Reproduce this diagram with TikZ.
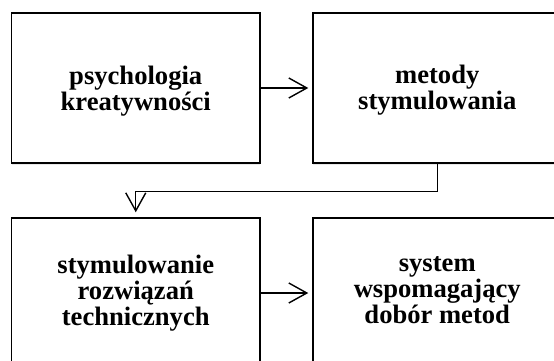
\documentclass[tikz,border=0pt]{standalone}
\usepackage{fontspec}
\setmainfont{Liberation Serif}
\usetikzlibrary{arrows.meta,positioning,shadows}

\begin{document}
\begin{tikzpicture}[x=1pt,y=-1pt,
    blok/.style={draw, line width=1.5pt, fill=white, minimum width=248.5pt,
      minimum height=150pt, inner sep=0pt,
      drop shadow={opacity=0.18, shadow xshift=0pt, shadow yshift=-2pt}},
    opis/.style={font=\bfseries\fontsize{26.6}{26}\selectfont, align=center, inner sep=0pt},
    strz/.style={line width=1.4pt,
      -{Straight Barb[length=18pt,width=20pt,line width=1.4pt]}}]
    \useasboundingbox (0,0) rectangle (554,361);
    \clip (0,0) rectangle (554,361);

    \node[blok] (b1) at (135.75,88) {};
    \node[blok] (b2) at (437.25,88) {};
    \node[blok] (b3) at (135.75,293) {};
    \node[blok] (b4) at (437.25,293) {};

    \node[opis] (psych) at (135.75,90.8) {psychologia\\kreatywności};
    \node[opis] (metody) at (437.25,89.8) {metody\\stymulowania};
    \node[opis] (stym) at (135.75,292.8) {stymulowanie\\rozwiązań\\technicznych};
    \node[opis] (system) at (437.25,290) {system\\wspomagający\\dobór metod};

    \draw[strz, shorten >=4pt] (b1) -- (b2);
    \draw[strz, shorten >=5pt] (b2.south) -- ++(0,28) -| (b3.north);
    \draw[strz, shorten >=4pt] (b3) -- (b4);
\end{tikzpicture}
\end{document}
